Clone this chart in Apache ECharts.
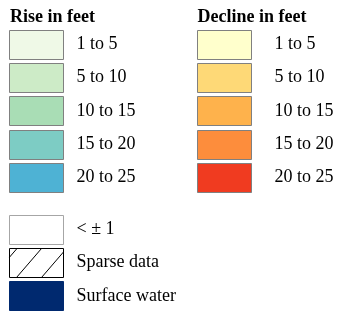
<!DOCTYPE html>
<html>
<head>
<meta charset="utf-8">
<script src="https://cdn.jsdelivr.net/npm/echarts@6/dist/echarts.min.js"></script>
<style>
html,body{margin:0;padding:0;background:#fff;}
#chart{width:339px;height:311px;}
</style>
</head>
<body>
<div id="chart"></div>
<script>
// ---- data ----
const columnTitles = ['Rise in feet', 'Decline in feet'];
const riseLabels = ['1 to 5', '5 to 10', '10 to 15', '15 to 20', '20 to 25'];
const declineLabels = ['1 to 5', '5 to 10', '10 to 15', '15 to 20', '20 to 25'];
const otherLabels = ['< \u00b1 1', 'Sparse data', 'Surface water'];
const riseRows = [0, 1, 2, 3, 4];
const declineRows = [0, 1, 2, 3, 4];
const otherRows = [5.55, 6.55, 7.55];

// ---- palette ----
const riseColors = ['#eff9e7', '#cdebc7', '#a9ddb5', '#7dccc4', '#4eb2d4'];
const declineColors = ['#ffffcc', '#fed977', '#feb24c', '#fd8d3c', '#f03b20'];
const otherKinds = ['blank', 'hatch', 'water'];

const items = [];
riseLabels.forEach((l, i) => items.push({value: [0, riseRows[i]], label: l, kind: 'fill', color: riseColors[i]}));
declineLabels.forEach((l, i) => items.push({value: [1, declineRows[i]], label: l, kind: 'fill', color: declineColors[i]}));
otherLabels.forEach((l, i) => items.push({value: [0, otherRows[i]], label: l, kind: otherKinds[i]}));

const SW = 54, SH = 29;
const textOffset = [67.5, 77.5];
const FONT = '"Liberation Serif", "Times New Roman", serif';

function hatchLines(x0, y0) {
  const tops = [7.5, 32, 57];
  const shift = 25;
  const out = [];
  tops.forEach(t => {
    let xt = t, yt = 0, xb = t - shift, yb = SH;
    const slope = SH / shift;
    if (xb < 0) { yb = SH - (0 - xb) * slope; xb = 0; }
    if (xt > SW) { yt = (xt - SW) * slope; xt = SW; }
    out.push({
      type: 'line',
      shape: {x1: x0 + xb, y1: y0 + yb, x2: x0 + xt, y2: y0 + yt},
      style: {stroke: '#000', lineWidth: 1}
    });
  });
  return out;
}

function renderItem(params, api) {
  const it = items[params.dataIndex];
  const p = api.coord([api.value(0), api.value(1)]);
  const col = api.value(0);
  const x = Math.round(p[0]) + 0.5;
  const y = Math.round(p[1] - SH / 2) + 0.5;
  const children = [];
  let fill = it.color, stroke = '#808080';
  if (it.kind === 'blank') { fill = '#ffffff'; stroke = '#a6a6a6'; }
  if (it.kind === 'hatch') { fill = '#ffffff'; stroke = '#000000'; }
  if (it.kind === 'water') { fill = '#00296f'; stroke = '#00296f'; }
  children.push({
    type: 'rect',
    shape: {x: x, y: y, width: SW, height: SH},
    style: {fill: fill, stroke: stroke, lineWidth: 1}
  });
  if (it.kind === 'hatch') {
    hatchLines(x, y).forEach(l => children.push(l));
  }
  children.push({
    type: 'text',
    style: {
      text: it.label,
      x: p[0] + textOffset[col],
      y: p[1],
      fill: '#000',
      font: '18px ' + FONT,
      textAlign: 'left',
      textVerticalAlign: 'middle'
    }
  });
  return {type: 'group', children: children};
}

const chart = echarts.init(document.getElementById('chart'), null, {renderer: 'canvas'});
chart.setOption({
  animation: false,
  title: columnTitles.map((t, i) => ({
    text: t,
    left: i === 0 ? 5 : 192.5,
    top: 3,
    textStyle: {fontFamily: FONT, fontSize: 18, fontWeight: 'bold', color: '#000'}
  })),
  grid: {left: 9, width: 188, top: 10.75, height: 303.75, containLabel: false},
  xAxis: {type: 'value', min: 0, max: 1, show: false},
  yAxis: {type: 'value', min: -1, max: 8, inverse: true, show: false},
  series: [{
    type: 'custom',
    renderItem: renderItem,
    clip: false,
    data: items.map(d => d.value)
  }]
});
</script>
</body>
</html>
